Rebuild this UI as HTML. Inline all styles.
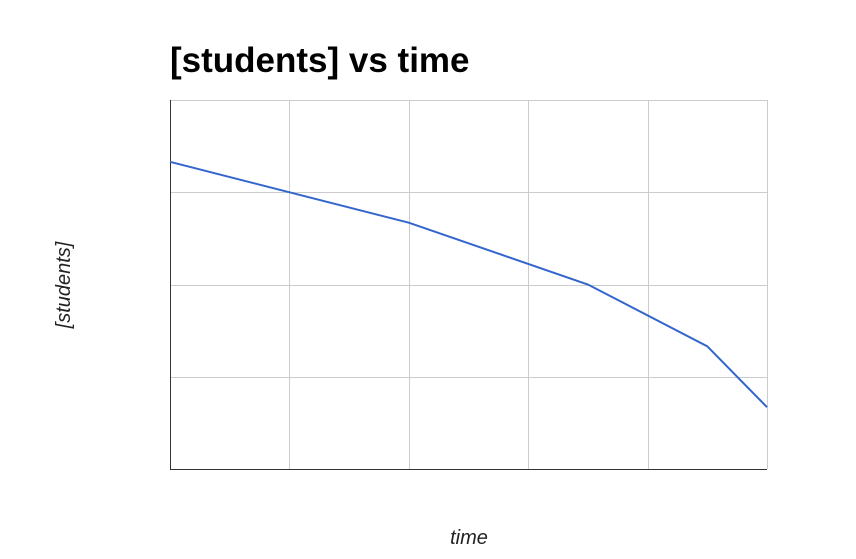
<!DOCTYPE html>
<html><head><meta charset="utf-8"><style>
body{margin:0;background:#fff;}
svg{display:block;font-family:"Liberation Sans",Arial,sans-serif;}
</style></head><body>
<svg id="chart" width="856" height="559">
<text x="170" y="72" font-size="35" font-weight="bold" fill="#000">[students] vs time</text>
<g id="grid"></g>
<line x1="170.5" y1="100" x2="170.5" y2="469" stroke="#333"/>
<line x1="170" y1="469.5" x2="767" y2="469.5" stroke="#333"/>
<path id="series" fill="none" stroke="#3366cc" stroke-width="2"/>
<text x="469" y="544" font-size="20" font-style="italic" text-anchor="middle" fill="#222">time</text>
<text transform="translate(70,285) rotate(-90)" font-size="20" font-style="italic" text-anchor="middle" fill="#222">[students]</text>
</svg>
<script>
const xValues=[0,2,3.5,4.5,5];
const yValues=[3.33,2.67,2.0,1.33,0.67];
const xTicks=[0,1,2,3,4,5];
const yTicks=[0,1,2,3,4];
const L=170,R=767,T=100,B=469,xMax=5,yMax=4;
const sx=v=>L+(R-L)*v/xMax, sy=v=>B-(B-T)*v/yMax;
const NS="http://www.w3.org/2000/svg", g=document.getElementById('grid');
xTicks.forEach(t=>{const l=document.createElementNS(NS,'line');
const x=Math.round(sx(t))+0.5;
l.setAttribute('x1',x);l.setAttribute('x2',x);l.setAttribute('y1',T);l.setAttribute('y2',B);l.setAttribute('stroke','#ccc');


g.appendChild(l);});
yTicks.forEach(t=>{const l=document.createElementNS(NS,'line');
const y=Math.round(sy(t))+0.5;
l.setAttribute('x1',L);l.setAttribute('x2',R);l.setAttribute('y1',y);l.setAttribute('y2',y);l.setAttribute('stroke','#ccc');


g.appendChild(l);});
document.getElementById('series').setAttribute('d',xValues.map((x,i)=>(i?'L':'M')+sx(x)+','+sy(yValues[i])).join(' '));
</script>
</body></html>
